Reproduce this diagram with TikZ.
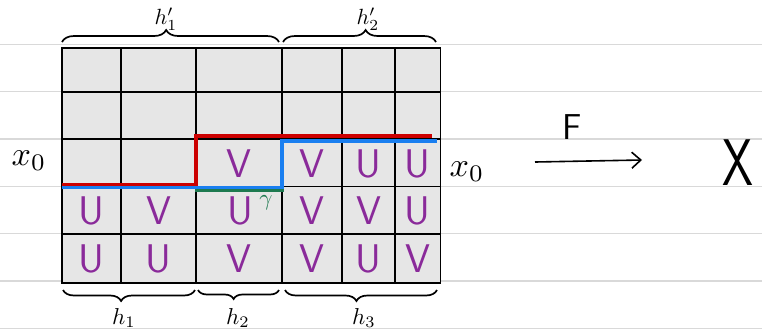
\documentclass[tikz,border=0pt]{standalone}
\usetikzlibrary{decorations.pathreplacing,arrows.meta}
\definecolor{paperline}{HTML}{D9D9D9}
\definecolor{cellfill}{HTML}{E6E6E6}
\definecolor{letterpurple}{HTML}{8A2A9A}
\definecolor{pathred}{HTML}{CC0000}
\definecolor{pathblue}{HTML}{1A7FF0}
\definecolor{pathgreen}{HTML}{1E7A50}
\begin{document}
\begin{tikzpicture}[x=1pt,y=-1pt,
  ruled/.style={draw=paperline,line width=1.4pt},
  gridline/.style={draw=black,line width=1.8pt},
  letter/.style={text=letterpurple,font=\fontsize{40}{40}\selectfont\sffamily,inner sep=0pt},
  hlabel/.style={inner sep=0pt},
  bigbrace/.style={decorate,draw=black,line width=1.7pt},
  redpath/.style={draw=pathred,line width=3.5pt},
  bluepath/.style={draw=pathblue,line width=3.5pt}]
\useasboundingbox (0,0) rectangle (762,333);
% ruled paper
\foreach \y in {44.3,91.6,139,186.3,233.6,281,328.3}
  \draw[ruled] (0,\y) -- (762,\y);
% grid
\fill[cellfill] (62,47.7) rectangle (440.5,283);
\foreach \x in {121,196,282,342,395}
  \draw[gridline] (\x,47.7) -- (\x,283);
\foreach \y in {92,139,186.5,234}
  \draw[gridline] (62,\y) -- (440.5,\y);
\draw[gridline] (62,47.7) rectangle (440.5,283);
% letters
\node[letter] (r3c3) at (239,164) {V};
\node[letter] (r3c4) at (312,164) {V};
\node[letter] (r3c5) at (368.5,164) {U};
\node[letter] (r3c6) at (417.5,164) {U};
\node[letter] (r4c1) at (91.5,211) {U};
\node[letter] (r4c2) at (158.5,211) {V};
\node[letter] (r4c3) at (240,211) {U};
\node[letter] (r4c4) at (312,211) {V};
\node[letter] (r4c5) at (368.5,211) {V};
\node[letter] (r4c6) at (417.5,211) {U};
\node[letter] (r5c1) at (91.5,258.5) {U};
\node[letter] (r5c2) at (158.5,258.5) {U};
\node[letter] (r5c3) at (239,258.5) {V};
\node[letter] (r5c4) at (312,258.5) {V};
\node[letter] (r5c5) at (368.5,258.5) {U};
\node[letter] (r5c6) at (417.5,258.5) {V};
% paths
\coordinate (ra) at (62,184.5);
\coordinate (rb) at (196,184.5);
\coordinate (rc) at (196,136);
\coordinate (rd) at (432,136);
\draw[redpath] (ra) -- (rb) -- (rc) -- (rd);
\coordinate (ba) at (62,187.5);
\coordinate (bb) at (282,187.5);
\coordinate (bc) at (282,141);
\coordinate (bd) at (437,141);
\draw[bluepath] (ba) -- (bb) -- (bc) -- (bd);
\coordinate (ga) at (195,190.5);
\coordinate (gb) at (284,190.5);
\draw[draw=pathgreen,line width=2.8pt] (ga) -- (gb);
\node[text=pathgreen,inner sep=0pt] (gamma) at (266,203) {\scalebox{2.3}{$\gamma$}};
% base point labels
\node[inner sep=0pt] (x0l) at (29,161) {\scalebox{3.4}{$x_0$}};
\node[inner sep=0pt] (x0r) at (467,172) {\scalebox{3.4}{$x_0$}};
% map F
\coordinate (fa) at (535,162);
\coordinate (fb) at (642,160);
\draw[line width=1.6pt,-{Straight Barb[length=9pt,width=16pt,line width=1.6pt]}] (fa) -- (fb);
\node[font=\fontsize{36}{36}\selectfont\sffamily,inner sep=0pt] (F) at (572,127) {F};
\node[font=\fontsize{66}{66}\selectfont\sffamily,inner sep=0pt] (X) at (738,163) {\scalebox{0.75}[1]{X}};
% top braces
\coordinate (t1a) at (62,42);
\coordinate (t1b) at (279,42);
\coordinate (t2a) at (283,42);
\coordinate (t2b) at (436,42);
\draw[bigbrace,decoration={brace,amplitude=12pt,aspect=0.48}] (t1a) -- (t1b);
\draw[bigbrace,decoration={brace,amplitude=12pt,aspect=0.54}] (t2a) -- (t2b);
\node[hlabel] (h1p) at (166,19) {\scalebox{2.2}{$h'_1$}};
\node[hlabel] (h2p) at (368,19) {\scalebox{2.2}{$h'_2$}};
% bottom braces
\coordinate (b1a) at (63,290);
\coordinate (b1b) at (195,290);
\coordinate (b2a) at (198,290);
\coordinate (b2b) at (279,290);
\coordinate (b3a) at (285,290);
\coordinate (b3b) at (437,290);
\draw[bigbrace,decoration={brace,mirror,amplitude=11pt,aspect=0.44}] (b1a) -- (b1b);
\draw[bigbrace,decoration={brace,mirror,amplitude=9pt,aspect=0.44}] (b2a) -- (b2b);
\draw[bigbrace,decoration={brace,mirror,amplitude=11pt,aspect=0.47}] (b3a) -- (b3b);
\node[hlabel] (h1) at (124,318) {\scalebox{2.3}{$h_1$}};
\node[hlabel] (h2) at (238,318) {\scalebox{2.3}{$h_2$}};
\node[hlabel] (h3) at (364,318) {\scalebox{2.3}{$h_3$}};
\end{tikzpicture}
\end{document}
